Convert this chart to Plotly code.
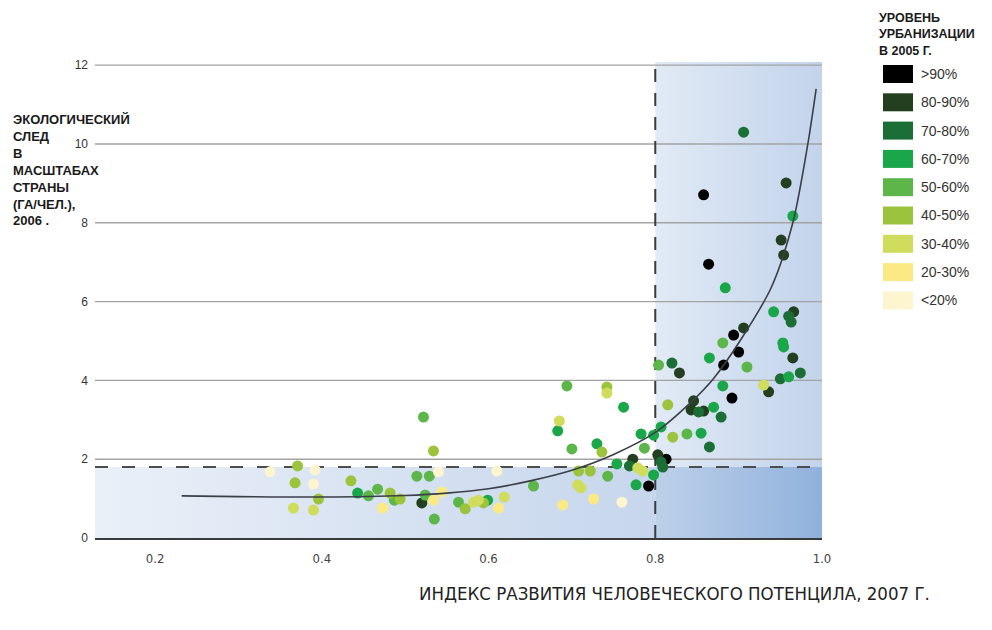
import plotly.graph_objects as go

# ---------------- data ----------------
categories = [">90%", "80-90%", "70-80%", "60-70%", "50-60%", "40-50%", "30-40%", "20-30%", "<20%"]
cat_colors = ["#000000", "#233f1f", "#1b6e35", "#1aa74a", "#5db64a", "#9cc33c", "#cfdc5c", "#fbea84", "#fcf5cf"]

x_gt90 = [0.792, 0.813, 0.858, 0.864, 0.894, 0.900, 0.882, 0.892]
y_gt90 = [1.32, 2.00, 8.71, 6.95, 5.15, 4.72, 4.39, 3.55]

x_80_90 = [0.520, 0.773, 0.803, 0.829, 0.846, 0.843, 0.858, 0.906, 0.965, 0.936, 0.957, 0.951, 0.954, 0.966]
y_80_90 = [0.89, 2.00, 2.11, 4.19, 3.48, 3.25, 3.22, 5.33, 4.57, 3.71, 9.01, 7.56, 7.18, 5.74]

x_70_80 = [0.820, 0.769, 0.807, 0.809, 0.865, 0.879, 0.852, 0.906, 0.950, 0.974, 0.960, 0.963]
y_70_80 = [4.44, 1.83, 1.93, 1.80, 2.31, 3.07, 3.20, 10.30, 4.04, 4.19, 5.63, 5.48]

x_60_70 = [0.443, 0.599, 0.683, 0.730, 0.762, 0.754, 0.783, 0.777, 0.798, 0.807, 0.798, 0.855,
           0.870, 0.881, 0.884, 0.865, 0.942, 0.953, 0.954, 0.960, 0.965]
y_60_70 = [1.14, 0.96, 2.72, 2.39, 3.32, 1.88, 2.64, 1.35, 2.61, 2.82, 1.60, 2.66,
           3.32, 3.86, 6.35, 4.57, 5.74, 4.95, 4.85, 4.09, 8.17]

x_50_60 = [0.456, 0.467, 0.487, 0.514, 0.529, 0.522, 0.524, 0.535, 0.564, 0.654, 0.694, 0.700,
           0.743, 0.787, 0.804, 0.838, 0.881, 0.910]
y_50_60 = [1.07, 1.24, 0.96, 1.57, 1.57, 3.07, 1.09, 0.48, 0.91, 1.32, 3.86, 2.26,
           1.57, 2.28, 4.39, 2.64, 4.95, 4.34]

x_40_50 = [0.371, 0.368, 0.396, 0.435, 0.482, 0.494, 0.534, 0.572, 0.594, 0.742, 0.736, 0.708,
           0.722, 0.815, 0.821]
y_40_50 = [1.83, 1.40, 0.99, 1.45, 1.14, 0.99, 2.21, 0.74, 0.89, 3.83, 2.18, 1.70,
           1.70, 3.38, 2.56]

x_30_40 = [0.390, 0.366, 0.582, 0.588, 0.685, 0.707, 0.711, 0.779, 0.785, 0.742, 0.930, 0.619]
y_30_40 = [0.71, 0.76, 0.91, 0.96, 2.97, 1.35, 1.27, 1.78, 1.70, 3.68, 3.88, 1.04]

x_20_30 = [0.473, 0.544, 0.534, 0.612, 0.689, 0.726]
y_20_30 = [0.76, 1.17, 0.96, 0.76, 0.84, 0.99]

x_lt20 = [0.338, 0.392, 0.390, 0.540, 0.610, 0.760]
y_lt20 = [1.68, 1.73, 1.37, 1.68, 1.70, 0.91]

# trend curve
x_curve = [0.232, 0.30, 0.40, 0.50, 0.55, 0.60, 0.65, 0.70, 0.75, 0.80, 0.843, 0.87, 0.90, 0.939, 0.965, 0.983, 0.993]
y_curve = [1.07, 1.05, 1.04, 1.08, 1.14, 1.25, 1.45, 1.72, 2.12, 2.68, 3.45, 4.05, 4.95, 6.35, 8.0, 10.0, 11.4]

# thresholds / axis
HDI_THRESHOLD = 0.8
FOOTPRINT_THRESHOLD = 1.8
X_MIN, X_MAX = 0.128, 1.0
Y_MIN, Y_MAX = 0.0, 12.08
x_ticks = [0.2, 0.4, 0.6, 0.8, 1.0]
x_ticktext = ["0.2", "0.4", "0.6", "0.8", "1.0"]
y_ticks = [0, 2, 4, 6, 8, 10, 12]

series_x = [x_gt90, x_80_90, x_70_80, x_60_70, x_50_60, x_40_50, x_30_40, x_20_30, x_lt20]
series_y = [y_gt90, y_80_90, y_70_80, y_60_70, y_50_60, y_40_50, y_30_40, y_20_30, y_lt20]

# ---------------- figure ----------------
# page body has an 8px margin, so the figure is laid out 8px smaller
W, H = 984, 622
ML, MR, MT, MB = 87, 170, 54, 92
PW, PH = W - ML - MR, H - MT - MB
OFF = 8


def paper_x(px):
    return (px - OFF - ML) / PW


def paper_y(py):
    return (H - MB - (py - OFF)) / PH


fig = go.Figure()


def region(x0, x1, y0, y1, c0, c1):
    fig.add_trace(go.Scatter(
        x=[x0, x1, x1, x0, x0], y=[y0, y0, y1, y1, y0],
        mode="lines", line=dict(width=0), fill="toself",
        fillgradient=dict(type="horizontal", colorscale=[[0, c0], [1, c1]]),
        hoverinfo="skip", showlegend=False))


# shaded regions
region(X_MIN, HDI_THRESHOLD, Y_MIN, FOOTPRINT_THRESHOLD, "#eaf0f8", "#c6d6ec")
region(HDI_THRESHOLD, X_MAX, FOOTPRINT_THRESHOLD, Y_MAX, "#e1eaf5", "#c2d3eb")
region(HDI_THRESHOLD, X_MAX, Y_MIN, FOOTPRINT_THRESHOLD, "#bdd0e9", "#90b1dc")

# grid lines
for yv in y_ticks[1:]:
    fig.add_trace(go.Scatter(x=[X_MIN, X_MAX], y=[yv, yv], mode="lines",
                             line=dict(color="#a3a3a3", width=1.4),
                             hoverinfo="skip", showlegend=False))

# dashed threshold lines
fig.add_trace(go.Scatter(x=[X_MIN, X_MAX], y=[FOOTPRINT_THRESHOLD, FOOTPRINT_THRESHOLD], mode="lines",
                         line=dict(color="#4d4d4d", width=2, dash="13px,14px"),
                         hoverinfo="skip", showlegend=False))
fig.add_trace(go.Scatter(x=[HDI_THRESHOLD, HDI_THRESHOLD], y=[Y_MIN, Y_MAX], mode="lines",
                         line=dict(color="#3d3d3d", width=2, dash="13px,11px"),
                         hoverinfo="skip", showlegend=False))

# points
for name, col, xs, ys in zip(categories, cat_colors, series_x, series_y):
    fig.add_trace(go.Scatter(x=xs, y=ys, mode="markers", name=name,
                             marker=dict(color=col, size=11, line=dict(width=0)),
                             showlegend=False))

# trend curve
fig.add_trace(go.Scatter(x=x_curve, y=y_curve, mode="lines",
                         line=dict(color="#3b3f47", width=1.6, shape="spline", smoothing=0.8),
                         hoverinfo="skip", showlegend=False))

FONT = "Liberation Sans, Arial, sans-serif"
NARROW = "Liberation Sans Narrow, Arial Narrow, DejaVu Sans Condensed, Liberation Sans, sans-serif"

shapes = []
annotations = []

# legend (manual)
annotations.append(dict(xref="paper", yref="paper", x=paper_x(877), y=paper_y(9),
                        xanchor="left", yanchor="top", align="left", showarrow=False,
                        text="<b>УРОВЕНЬ<br>УРБАНИЗАЦИИ<br>В 2005 Г.</b>",
                        font=dict(family=FONT, size=12.5, color="#1a1a1a")))
for i, (name, col) in enumerate(zip(categories, cat_colors)):
    top = 65 + i * 28.3
    shapes.append(dict(type="rect", xref="paper", yref="paper",
                       x0=paper_x(883), x1=paper_x(913), y0=paper_y(top + 18), y1=paper_y(top),
                       fillcolor=col, line=dict(width=0), layer="above"))
    annotations.append(dict(xref="paper", yref="paper", x=paper_x(919), y=paper_y(top + 9),
                            xanchor="left", yanchor="middle", showarrow=False, text=name,
                            font=dict(family=FONT, size=14, color="#333333")))

# y-axis title
annotations.append(dict(xref="paper", yref="paper", x=paper_x(11), y=paper_y(110),
                        xanchor="left", yanchor="top", align="left", showarrow=False,
                        text="<b>ЭКОЛОГИЧЕСКИЙ<br>СЛЕД<br>В<br>МАСШТАБАХ<br>СТРАНЫ<br>(ГА/ЧЕЛ.),<br>2006 .</b>",
                        font=dict(family=FONT, size=13, color="#1a1a1a")))

# x-axis title
annotations.append(dict(xref="paper", yref="paper", x=paper_x(417), y=paper_y(593),
                        xanchor="left", yanchor="middle", showarrow=False,
                        text="ИНДЕКС РАЗВИТИЯ ЧЕЛОВЕЧЕСКОГО ПОТЕНЦИЛА, 2007 Г.",
                        font=dict(family=NARROW, size=18.5, color="#222222")))

fig.update_layout(
    width=W, height=H,
    margin=dict(l=ML, r=MR, t=MT, b=MB),
    paper_bgcolor="white", plot_bgcolor="white",
    showlegend=False,
    shapes=shapes, annotations=annotations,
    xaxis=dict(range=[X_MIN, X_MAX], tickvals=x_ticks, ticktext=x_ticktext,
               showgrid=False, zeroline=False, showline=True, linecolor="#3a3a3a", linewidth=2,
               ticks="", ticklabelstandoff=7,
               tickfont=dict(family=NARROW, size=13, color="#444444")),
    yaxis=dict(range=[Y_MIN, Y_MAX], tickvals=y_ticks,
               showgrid=False, zeroline=False, showline=False, ticks="", ticklabelstandoff=6,
               tickfont=dict(family=FONT, size=12, color="#333333")),
)

fig.write_html("out.html")
